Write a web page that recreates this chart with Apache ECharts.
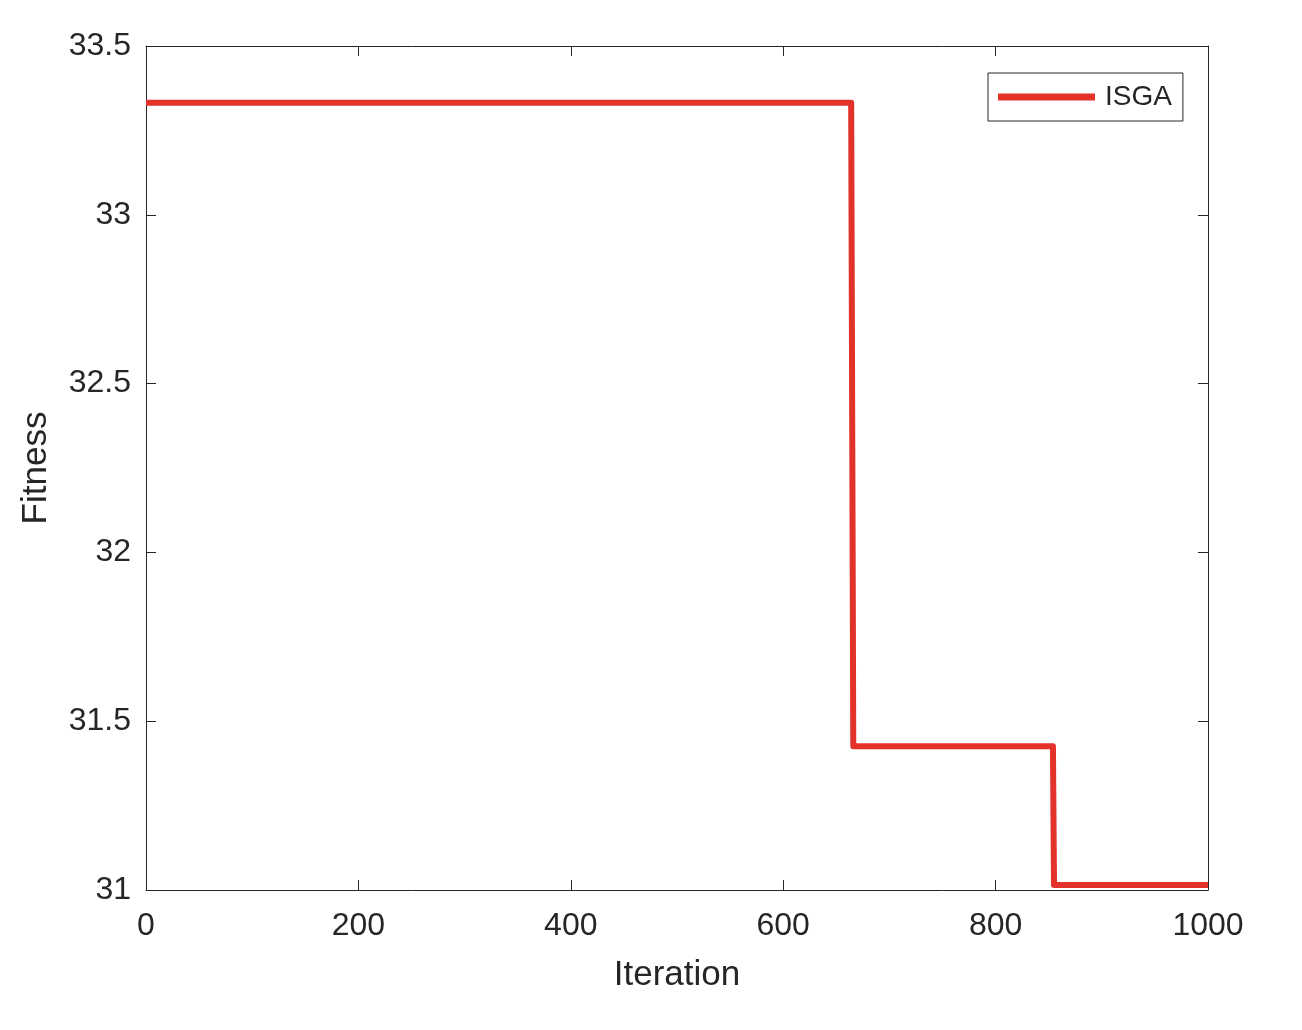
<!DOCTYPE html>
<html>
<head>
<meta charset="utf-8">
<script src="https://cdn.jsdelivr.net/npm/echarts@6/dist/echarts.min.js"></script>
<style>html,body{margin:0;padding:0;background:#fff}#c{width:1302px;height:1030px}</style>
</head>
<body>
<div id="c"></div>
<script>
const seriesName = 'ISGA';
const iterations = [0, 664, 666, 854, 855, 1000];
const fitness = [33.332, 33.332, 31.426, 31.426, 31.015, 31.015];
const xTicks = [0, 200, 400, 600, 800, 1000];
const yTicks = [31, 31.5, 32, 32.5, 33, 33.5];

const chart = echarts.init(document.getElementById('c'));
const txt = '#262626';
const font = 'Liberation Sans, Arial, Helvetica, sans-serif';
const pts = iterations.map((x, i) => [x, fitness[i]]);
const axBase = {
  type: 'value',
  axisLine: {show: true, onZero: false, lineStyle: {color: txt, width: 1}},
  axisTick: {show: true, inside: true, length: 10, lineStyle: {color: txt, width: 1}},
  splitLine: {show: false}
};
chart.setOption({
  animation: false,
  backgroundColor: '#fff',
  grid: {left: 146, top: 46, right: 94, bottom: 140},
  legend: {
    data: [seriesName],
    left: 988, top: 73,
    icon: 'rect', itemWidth: 97, itemHeight: 7,
    padding: [10, 11, 10, 10],
    borderColor: txt, borderWidth: 1,
    backgroundColor: '#fff',
    textStyle: {color: txt, fontSize: 28, fontFamily: font, padding: [2, 0, 0, 5]}
  },
  xAxis: [
    Object.assign({}, axBase, {
      min: xTicks[0], max: xTicks[xTicks.length - 1], interval: 200, position: 'bottom',
      axisLabel: {color: txt, fontSize: 32, fontFamily: font, margin: 20, formatter: v => String(v)},
      name: 'Iteration', nameLocation: 'middle', nameGap: 68,
      nameTextStyle: {color: txt, fontSize: 35, fontFamily: font}
    }),
    Object.assign({}, axBase, {
      min: xTicks[0], max: xTicks[xTicks.length - 1], interval: 200, position: 'top',
      axisLabel: {show: false}
    })
  ],
  yAxis: [
    Object.assign({}, axBase, {
      min: yTicks[0], max: yTicks[yTicks.length - 1], interval: 0.5, position: 'left',
      axisLabel: {color: txt, fontSize: 32, fontFamily: font, margin: 15, padding: [10, 0, 0, 0], formatter: v => String(v)},
      name: 'Fitness', nameLocation: 'middle', nameGap: 92,
      nameTextStyle: {color: txt, fontSize: 35, fontFamily: font}
    }),
    Object.assign({}, axBase, {
      min: yTicks[0], max: yTicks[yTicks.length - 1], interval: 0.5, position: 'right',
      axisLabel: {show: false}
    })
  ],
  series: [{
    name: seriesName,
    type: 'line',
    data: pts,
    symbol: 'none',
    clip: false,
    color: '#e2322a',
    lineStyle: {color: '#e2322a', width: 6, join: 'round'}
  }]
});
</script>
</body>
</html>
